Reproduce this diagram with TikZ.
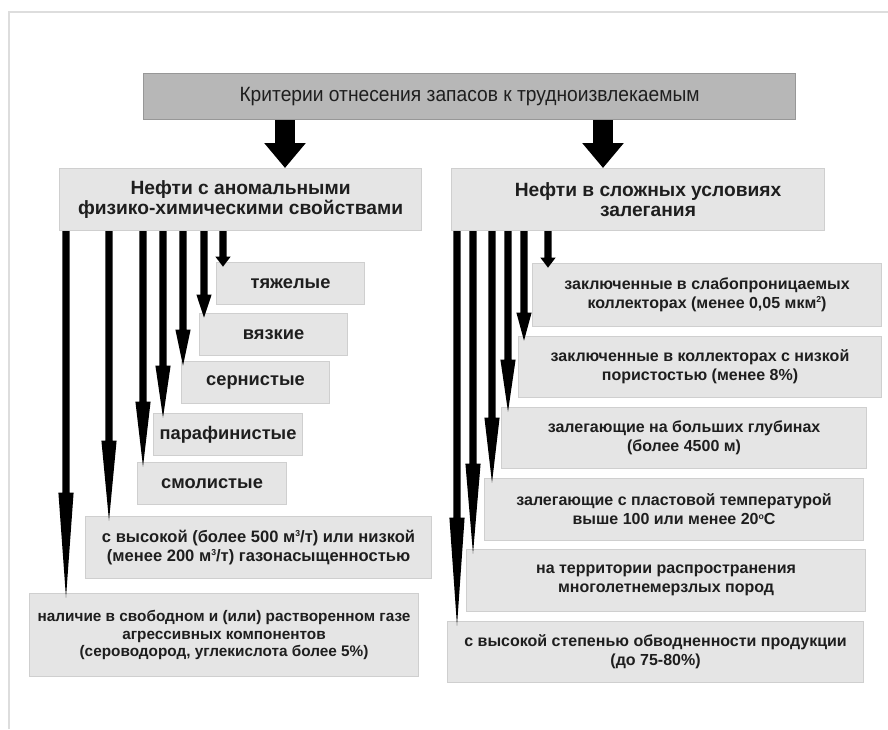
\documentclass[tikz,border=0pt]{standalone}
\usepackage{fontspec}
\setmainfont{Liberation Sans}
\newfontfamily\titlefont[FakeStretch=0.93]{Liberation Sans}
\usetikzlibrary{arrows.meta,calc}

\definecolor{boxfill}{HTML}{E5E5E5}
\definecolor{boxline}{HTML}{CFCFCF}
\definecolor{topfill}{HTML}{B7B7B7}
\definecolor{topline}{HTML}{979797}
\definecolor{framecol}{HTML}{DDDDDD}
\definecolor{ink}{HTML}{1E1E1E}

\newdimen\px \px=0.75pt
\newcommand\sups[1]{\raisebox{0.7ex}{\fontsize{6.5}{7}\selectfont #1}}

\begin{document}
\begin{tikzpicture}[x=0.75pt,y=-0.75pt,
    box/.style={draw=boxline, line width=0.8pt, fill=boxfill, anchor=north west,
      inner sep=0pt, align=center, text=ink},
    word/.style={box, minimum height=42\px, font=\bfseries\fontsize{13.7}{15}\selectfont},
    twoline/.style={box, font=\bfseries\fontsize{12}{14.3}\selectfont},
    bigarrow/.style={line width=15pt, -{Triangle[length=18.75pt, width=30pt]}},
    % тонкая стрелка с длинным наконечником, #1 -- длина наконечника (pt)
    stem/.style={to path={let \p1=(\tikztostart), \p2=(\tikztotarget) in
      ({\x1-2.7pt},\y1) -- ({\x1+2.7pt},\y1) -- ({\x1+2.7pt},{\y2-3.5pt+#1pt})
      -- ({\x1+5.7pt},{\y2-3.5pt+#1pt}) -- (\x1,{\y2-3.5pt})
      -- ({\x1-5.7pt},{\y2-3.5pt+#1pt}) -- ({\x1-2.7pt},{\y2-3.5pt+#1pt}) -- cycle}}]

\useasboundingbox (0,0) rectangle (888,729);

% ==== рамка ====
\draw[framecol, line width=0.9pt] (9,729) -- (9,12) -- (888,12);

% ==== заголовок и две группы ====
\node[box, draw=topline, fill=topfill, minimum width=652\px, minimum height=46\px,
      font=\titlefont\fontsize{15.5}{17}\selectfont] (crit) at (143,73)
  {Критерии отнесения запасов к трудноизвлекаемым};

\node[box, minimum width=362\px, minimum height=62\px,
      font=\bfseries\fontsize{14.4}{15.2}\selectfont] (anom) at (59,168)
  {Нефти с аномальными\\физико-химическими свойствами};
\node[box, minimum width=373\px, minimum height=62\px,
      font=\bfseries\fontsize{14.4}{15.2}\selectfont] (slozh) at (451,168)
  {\hspace*{20\px}Нефти в сложных условиях\\\hspace*{20\px}залегания};

\coordinate (bl) at (285,0);
\coordinate (br) at (603,0);
\draw[bigarrow] (bl |- crit.south) -- (bl |- anom.north);
\draw[bigarrow] (br |- crit.south) -- (br |- slozh.north);

% ==== левая группа ====
\node[word, minimum width=148\px] (tyazh) at (216,262) {тяжелые};
\node[word, minimum width=148\px] (vyaz)  at (199,313) {вязкие};
\node[word, minimum width=148\px] (sern)  at (181,361) {сернистые};
\node[word, minimum width=149\px] (paraf) at (153,413) {парафинистые};
\node[word, minimum width=149\px] (smol)  at (137,462) {смолистые};
\node[twoline, minimum width=346\px, minimum height=62\px,
      font=\bfseries\fontsize{12.4}{14.3}\selectfont] (gaz) at (85,516)
  {с высокой (более 500 м\sups{3}/т) или низкой\\
   (менее 200 м\sups{3}/т) газонасыщенностью};
\node[twoline, minimum width=389\px, minimum height=83\px,
      font=\bfseries\fontsize{11.5}{13.1}\selectfont] (agr) at (29,593)
  {наличие в свободном и (или) растворенном газе\\
   агрессивных компонентов\\
   (сероводород, углекислота более 5\%)};

% стрелки: x, цель, длина наконечника (pt)
\foreach \x/\tgt/\len in {223/tyazh/7.5, 204/vyaz/17.25, 183/sern/27, 163/paraf/39,
                          143/smol/48.75, 109/gaz/60, 66/agr/78.75} {
  \coordinate (ax) at (\x,0);
  \fill[black] (ax |- anom.south) to[stem=\len] (ax |- \tgt.north);
}

% ==== правая группа ====
\node[twoline, minimum width=349\px, minimum height=63\px] (pron) at (532,263)
  {заключенные в слабопроницаемых\\
   коллекторах (менее 0,05 мкм\sups{2})};
\node[twoline, minimum width=363\px, minimum height=61\px] (pori) at (518,336)
  {заключенные в коллекторах с низкой\\пористостью (менее 8\%)};
\node[twoline, minimum width=365\px, minimum height=61\px] (glub) at (501,407)
  {залегающие на больших глубинах\\(более 4500 м)};
\node[twoline, minimum width=379\px, minimum height=62\px] (temp) at (484,478)
  {залегающие с пластовой температурой\\
   выше 100 или менее 20\sups{o}C};
\node[twoline, minimum width=399\px, minimum height=62\px] (merz) at (466,549)
  {на территории распространения\\многолетнемерзлых пород};
\node[twoline, minimum width=416\px, minimum height=61\px] (obvod) at (447,621)
  {с высокой степенью обводненности продукции\\(до 75-80\%)};

\foreach \x/\tgt/\len in {548/pron/7.5, 524/pori/21, 508/glub/39, 492/temp/48.75,
                          473/merz/67.5, 457/obvod/81} {
  \coordinate (ax) at (\x,0);
  \fill[black] (ax |- slozh.south) to[stem=\len] (ax |- \tgt.north);
}

\end{tikzpicture}
\end{document}
